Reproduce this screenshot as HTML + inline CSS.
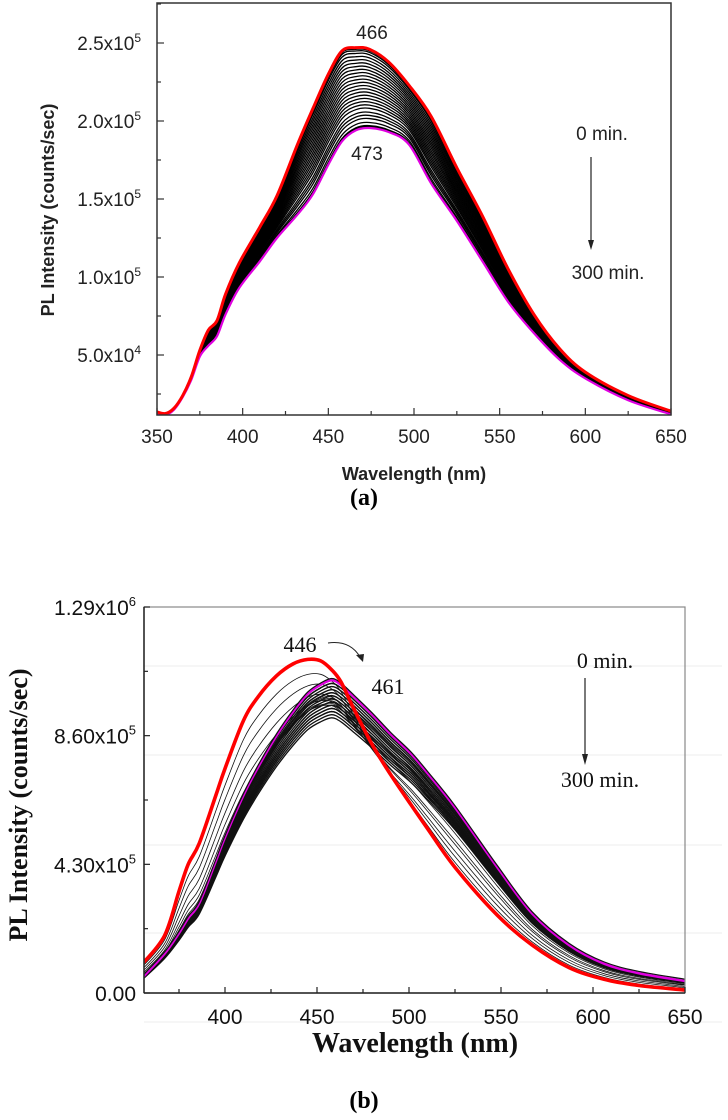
<!DOCTYPE html>
<html><head><meta charset="utf-8">
<style>
html,body{margin:0;padding:0;background:#fff;}
svg{display:block;}
</style></head>
<body>
<svg id="fig" width="728" height="1120" viewBox="0 0 728 1120" xmlns="http://www.w3.org/2000/svg">
  <g id="chartA"></g>
  <g id="chartB"></g>
</svg>
<script>
// ---------- Chart (a) data (intensity in 1e4 counts/sec) ----------
const wlA = [350,355,360,365,370,375,380,385,390,398,410,420,432,441,450,458,466,474,485,497,510,525,540,555,570,585,600,625,650];
const redA = [1.35,1.25,1.6,2.4,3.6,5.3,6.6,7.2,8.9,10.9,13.2,15.2,18.5,20.8,23.0,24.5,24.7,24.6,23.8,22.3,20.3,17.0,13.9,10.5,7.6,5.4,3.9,2.4,1.4];
const magA = [1.25,1.15,1.5,2.3,3.4,4.9,5.6,6.2,7.6,9.3,11.0,12.5,14.0,15.3,17.2,18.7,19.4,19.55,19.3,18.5,16.0,13.6,11.0,8.4,6.4,4.7,3.5,2.1,1.2];
const mixA = [0.03,0.07,0.12,0.16,0.2,0.25,0.29,0.33,0.37,0.41,0.45,0.49,0.53,0.57,0.61,0.65,0.69,0.73,0.77,0.81,0.85,0.89,0.93,0.96,0.98];
const yTicksA = [5.0,10.0,15.0,20.0,25.0];
const xTicksA = [350,400,450,500,550,600,650];
// ---------- Chart (b) data (intensity in 1e6 counts/sec) ----------
const wlB = [354,367,375,380,386,395,400,410,418,428,437,445,452,458,463,470,480,490,501,510,525,548,567,587,606,625,650];
const redB = [0.09,0.19,0.34,0.43,0.50,0.66,0.75,0.91,0.99,1.06,1.10,1.115,1.11,1.08,1.04,0.95,0.83,0.73,0.63,0.55,0.42,0.26,0.16,0.085,0.046,0.025,0.01];
const magB = [0.044,0.13,0.20,0.25,0.30,0.44,0.52,0.66,0.755,0.86,0.94,1.0,1.03,1.045,1.03,0.99,0.93,0.865,0.80,0.735,0.62,0.42,0.265,0.16,0.098,0.066,0.04];
const mixTB = [0.15,0.3,0.45,0.6,0.7,0.8,0.85,0.9,0.93,0.96,0.98,1,1,1,1,1,1,1,1,1,1,1,1,1,1,1,1,1,1,1];
const mixSB = [0.97,0.95,0.93,0.92,0.91,0.92,0.93,0.94,0.95,0.96,0.97,0.98,0.99,1,0.93,0.92,0.91,0.9,0.89,0.88,0.9,0.91,0.92,0.93,0.94,0.95,0.96,0.97,0.98,0.99];
const yTicksB = ["0.00","4.30","8.60","1.29"];
const yTickValsB = [0,0.43,0.86,1.29];
const xTicksB = [400,450,500,550,600,650];

const NS="http://www.w3.org/2000/svg";
function mk(parent,tag,attrs,text){const e=document.createElementNS(NS,tag);for(const k in attrs)e.setAttribute(k,attrs[k]);if(text!==undefined)e.textContent=text;parent.appendChild(e);return e;}
function pathD(xs,ys){ // catmull-rom
  let d=`M${xs[0].toFixed(2)},${ys[0].toFixed(2)}`;
  for(let i=0;i<xs.length-1;i++){
    const x0=xs[Math.max(0,i-1)],y0=ys[Math.max(0,i-1)],x1=xs[i],y1=ys[i],x2=xs[i+1],y2=ys[i+1],x3=xs[Math.min(xs.length-1,i+2)],y3=ys[Math.min(xs.length-1,i+2)];
    d+=` C${(x1+(x2-x0)/6).toFixed(2)},${(y1+(y2-y0)/6).toFixed(2)} ${(x2-(x3-x1)/6).toFixed(2)},${(y2-(y3-y1)/6).toFixed(2)} ${x2.toFixed(2)},${y2.toFixed(2)}`;
  }
  return d;
}

// ================= Chart A =================
(function(){
const g=document.getElementById('chartA');
const L=157,R=671,T=3,B=415;
const xA=w=>L+(w-350)/(650-350)*(R-L);
const yA=v=>433-v/5*78;
const clip=mk(g,'clipPath',{id:'clipA'});mk(clip,'rect',{x:L,y:T,width:R-L,height:B-T});
const lines=mk(g,'g',{'clip-path':'url(#clipA)'});


const xs=wlA.map(xA);
mixA.forEach((t,i)=>{
  const ys=wlA.map((w,j)=>yA(magA[j]+(redA[j]-magA[j])*t));
  const e=mk(lines,'path',{d:pathD(xs,ys),fill:'none',stroke:'#000','stroke-width':1.3});
  
  
});
let p=mk(lines,'path',{d:pathD(xs,magA.map(v=>yA(v)-1.5)),fill:'none',stroke:'#000','stroke-width':1.8});


p=mk(lines,'path',{d:pathD(xs,magA.map(yA)),fill:'none',stroke:'#e000e0','stroke-width':2.2});


p=mk(lines,'path',{d:pathD(xs,redA.map(yA)),fill:'none',stroke:'#ff0000','stroke-width':3});


const fr=mk(g,'rect',{x:L,y:T,width:R-L,height:B-T,fill:'none',stroke:'#333','stroke-width':1.5});


for(let w=350;w<=650;w+=25){const x=xA(w);mk(g,'line',{x1:x,y1:B,x2:x,y2:B-(w%50===0?7:4),stroke:'#333','stroke-width':1.2});}
xTicksA.forEach(w=>{
  const t=mk(g,'text',{x:xA(w),y:443,'text-anchor':'middle','font-family':'Liberation Sans, sans-serif','font-size':19,fill:'#222'},String(w));
  
  
});
for(let v=2.5;v<=27.5;v+=2.5){const y=yA(v);if(y<T||y>B)continue;mk(g,'line',{x1:L,y1:y,x2:L+(v%5===0?7:4),y2:y,stroke:'#333','stroke-width':1.2});}
yTicksA.forEach(v=>{
  const y=yA(v);
  const mant=v>=10?(v/10).toFixed(1):v.toFixed(1);
  const ex=v>=10?'5':'4';
  const t=mk(g,'text',{x:141,y:y+7,'text-anchor':'end','font-family':'Liberation Sans, sans-serif','font-size':19,fill:'#222'});
  
  
  mk(t,'tspan',{},mant+'x10');
  mk(t,'tspan',{dy:-8,'font-size':12},ex);
});
let t=mk(g,'text',{x:0,y:0,transform:'translate(54,210) rotate(-90)','text-anchor':'middle','font-family':'Liberation Sans, sans-serif','font-weight':'bold','font-size':18,fill:'#222'},'PL Intensity (counts/sec)');


t=mk(g,'text',{x:414,y:480,'text-anchor':'middle','font-family':'Liberation Sans, sans-serif','font-weight':'bold','font-size':18,fill:'#222'},'Wavelength (nm)');


const ann=[['466',372,39],['473',367,160],['0 min.',602,140],['300 min.',608,279]];
ann.forEach(a=>{const e=mk(g,'text',{x:a[1],y:a[2],'text-anchor':'middle','font-family':'Liberation Sans, sans-serif','font-size':19,fill:'#222'},a[0]);
  
  });
const ar=mk(g,'g',{});


mk(ar,'line',{x1:591,y1:157,x2:591,y2:242,stroke:'#222','stroke-width':1.2});
mk(ar,'path',{d:'M588,240 L594,240 L591,250 Z',fill:'#222'});
t=mk(g,'text',{x:364,y:505,'text-anchor':'middle','font-family':'Liberation Serif, serif','font-weight':'bold','font-size':24,fill:'#000'},'(a)');


})();

// ================= Chart B =================
(function(){
const g=document.getElementById('chartB');
const L=144,R=685,T=607,B=993;
const xB=w=>225+(w-400)*1.84;
const yB=v=>B-v/1.29*(B-T);
[666,755,845,933,1022].forEach(y=>mk(g,'line',{x1:L,y1:y,x2:722,y2:y,stroke:'#eee','stroke-width':1}));
const clip=mk(g,'clipPath',{id:'clipB'});mk(clip,'rect',{x:L,y:T,width:R-L,height:B-T});
const lines=mk(g,'g',{'clip-path':'url(#clipB)'});


const xs=wlB.map(xB);
mixTB.forEach((t,i)=>{
  const s=mixSB[i];
  const ys=wlB.map((w,j)=>yB((redB[j]+(magB[j]-redB[j])*t)*s));
  const e=mk(lines,'path',{d:pathD(xs,ys),fill:'none',stroke:'#111','stroke-width':i<12?0.8:1.3});
  
  
});
let p=mk(lines,'path',{d:pathD(xs,magB.map(yB)),fill:'none',stroke:'#e000e0','stroke-width':2.5});


p=mk(lines,'path',{d:pathD(xs,magB.map(v=>yB(v)-1.8)),fill:'none',stroke:'#111','stroke-width':1.2});


p=mk(lines,'path',{d:pathD(xs,redB.map(yB)),fill:'none',stroke:'#ff0000','stroke-width':3.6});


const fr=mk(g,'rect',{x:L,y:T,width:R-L,height:B-T,fill:'none',stroke:'#888','stroke-width':1.2});


mk(g,'line',{x1:L,y1:T,x2:L,y2:B,stroke:'#222','stroke-width':1.5});
mk(g,'line',{x1:L,y1:B,x2:R,y2:B,stroke:'#222','stroke-width':1.5});
for(let w=375;w<=650;w+=25){const x=xB(w);mk(g,'line',{x1:x,y1:B,x2:x,y2:B-(w%50===0?6:4),stroke:'#222','stroke-width':1.2});}
xTicksB.forEach(w=>{
  const t=mk(g,'text',{x:xB(w),y:1024,'text-anchor':'middle','font-family':'Liberation Sans, sans-serif','font-size':21,fill:'#111'},String(w));
  
  
});
for(let k=0;k<=6;k++){const y=yB(k*0.215);mk(g,'line',{x1:L,y1:y,x2:L+(k%2===0?6:4),y2:y,stroke:'#222','stroke-width':1.2});}
yTickValsB.forEach((v,i)=>{
  const y=yB(v);
  const t=mk(g,'text',{x:136,y:y+8,'text-anchor':'end','font-family':'Liberation Sans, sans-serif','font-size':21,fill:'#111'});
  
  
  if(v===0){t.textContent=yTicksB[i];}
  else{mk(t,'tspan',{},yTicksB[i]+'x10');mk(t,'tspan',{dy:-9,'font-size':13},v>1?'6':'5');}
});
let t=mk(g,'text',{x:0,y:0,transform:'translate(27,805) rotate(-90)','text-anchor':'middle','font-family':'Liberation Serif, serif','font-weight':'bold','font-size':26,fill:'#111'},'PL Intensity (counts/sec)');


t=mk(g,'text',{x:415,y:1052,'text-anchor':'middle','font-family':'Liberation Serif, serif','font-weight':'bold','font-size':28,fill:'#111'},'Wavelength (nm)');


const ann=[['446',300,652],['461',388,694],['0 min.',605,668],['300 min.',600,787]];
ann.forEach(a=>{const e=mk(g,'text',{x:a[1],y:a[2],'text-anchor':'middle','font-family':'Liberation Serif, serif','font-size':22,fill:'#111'},a[0]);
  
  });
const ar=mk(g,'g',{});


mk(ar,'line',{x1:585,y1:678,x2:585,y2:756,stroke:'#222','stroke-width':1.2});
mk(ar,'path',{d:'M582,754 L588,754 L585,765 Z',fill:'#222'});
const ca=mk(g,'g',{});


mk(ca,'path',{d:'M328,643 Q350,640 360,657',fill:'none',stroke:'#222','stroke-width':1});
mk(ca,'path',{d:'M356,655 L364,654 L363,662 Z',fill:'#222'});
t=mk(g,'text',{x:364,y:1108,'text-anchor':'middle','font-family':'Liberation Serif, serif','font-weight':'bold','font-size':24,fill:'#000'},'(b)');


})();
</script>
</body></html>
